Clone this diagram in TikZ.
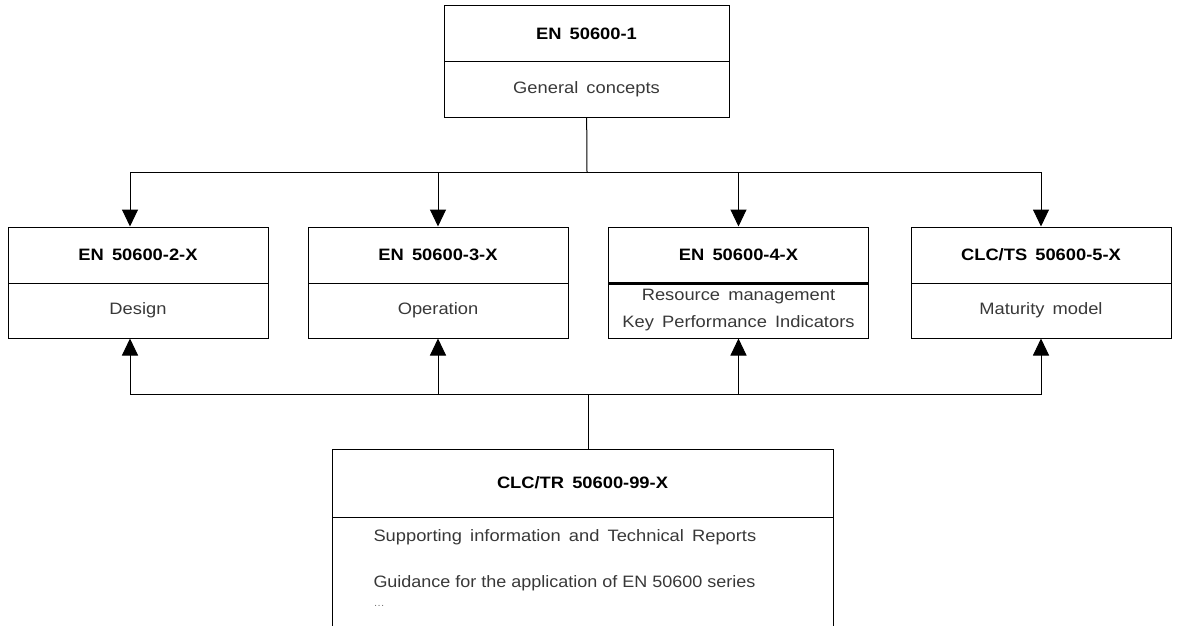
\documentclass[tikz,border=0pt]{standalone}
\usepackage{fontspec}
\setmainfont{Liberation Sans}[FakeStretch=1.11,WordSpace=1.6]
\newfontfamily\plainfont{Liberation Sans}[FakeStretch=1.09]
\usetikzlibrary{arrows.meta}

\begin{document}
\begin{tikzpicture}[x=1pt,y=-1pt,line width=1pt,
  head node/.style={rectangle,draw,minimum height=56pt,inner sep=0pt,font=\bfseries\fontsize{16.5}{20}\selectfont},
  body node/.style={rectangle,draw,minimum height=55pt,inner sep=0pt,text=black!78,align=center,font=\fontsize{16.5}{27}\selectfont},
  note text/.style={anchor=west,inner sep=0pt,text=black!78,font=\fontsize{16.5}{20}\selectfont},
  arr/.style={-{Triangle[width=16pt,length=17pt]}}]
\useasboundingbox (0,0) rectangle (1187,626);
\clip (0,0) rectangle (1187,626);

\node[head node,minimum width=285pt] (1) at (586.5,34) {EN 50600-1};
\node[body node,minimum width=285pt] (1b) at (586.5,89.5) {General concepts};

\node[head node,minimum width=260pt] (2) at (138,255) {EN 50600-2-X};
\node[body node,minimum width=260pt] (2b) at (138,310.5) {Design};
\node[head node,minimum width=260pt] (3) at (438,255) {EN 50600-3-X};
\node[body node,minimum width=260pt] (3b) at (438,310.5) {Operation};
\node[head node,minimum width=260pt] (4) at (738.5,255) {EN 50600-4-X};
\node[body node,minimum width=260pt] (4b) at (738.5,310.5) {Resource management\\Key Performance Indicators};
\node[head node,minimum width=260pt] (5) at (1041,255) {CLC/TS 50600-5-X};
\node[body node,minimum width=260pt] (5b) at (1041,310.5) {Maturity model};
\draw[line width=2.4pt] (4.south west) -- (4.south east);

\node[head node,minimum width=501pt,minimum height=68pt] (99) at (582.5,483) {CLC/TR 50600-99-X};
\node[body node,minimum width=501pt,minimum height=143pt] (99b) at (582.5,588.5) {};
\node[note text] (s1) at (373,537) {Supporting information and Technical Reports};
\node[note text,font=\plainfont\fontsize{16.5}{20}\selectfont] (s2) at (373,583) {Guidance for the application of EN 50600 series};
\node[note text,font=\fontsize{10}{10}\selectfont,text=black!55] (s3) at (373,606) {\dots};

\coordinate (bus1) at (587,172);
\coordinate (bus2) at (588,394);

\draw (1b) -- (bus1);
\draw[arr] (bus1) -| ([xshift=-8pt]2.north);
\draw[arr] (bus1) -| (3.north);
\draw[arr] (bus1) -| (4.north);
\draw[arr] (bus1) -| (5.north);

\draw (bus2) -- (bus2 |- 99.north);
\draw[arr] (bus2) -| ([xshift=-8pt]2b.south);
\draw[arr] (bus2) -| (3b.south);
\draw[arr] (bus2) -| (4b.south);
\draw[arr] (bus2) -| (5b.south);

\end{tikzpicture}
\end{document}
